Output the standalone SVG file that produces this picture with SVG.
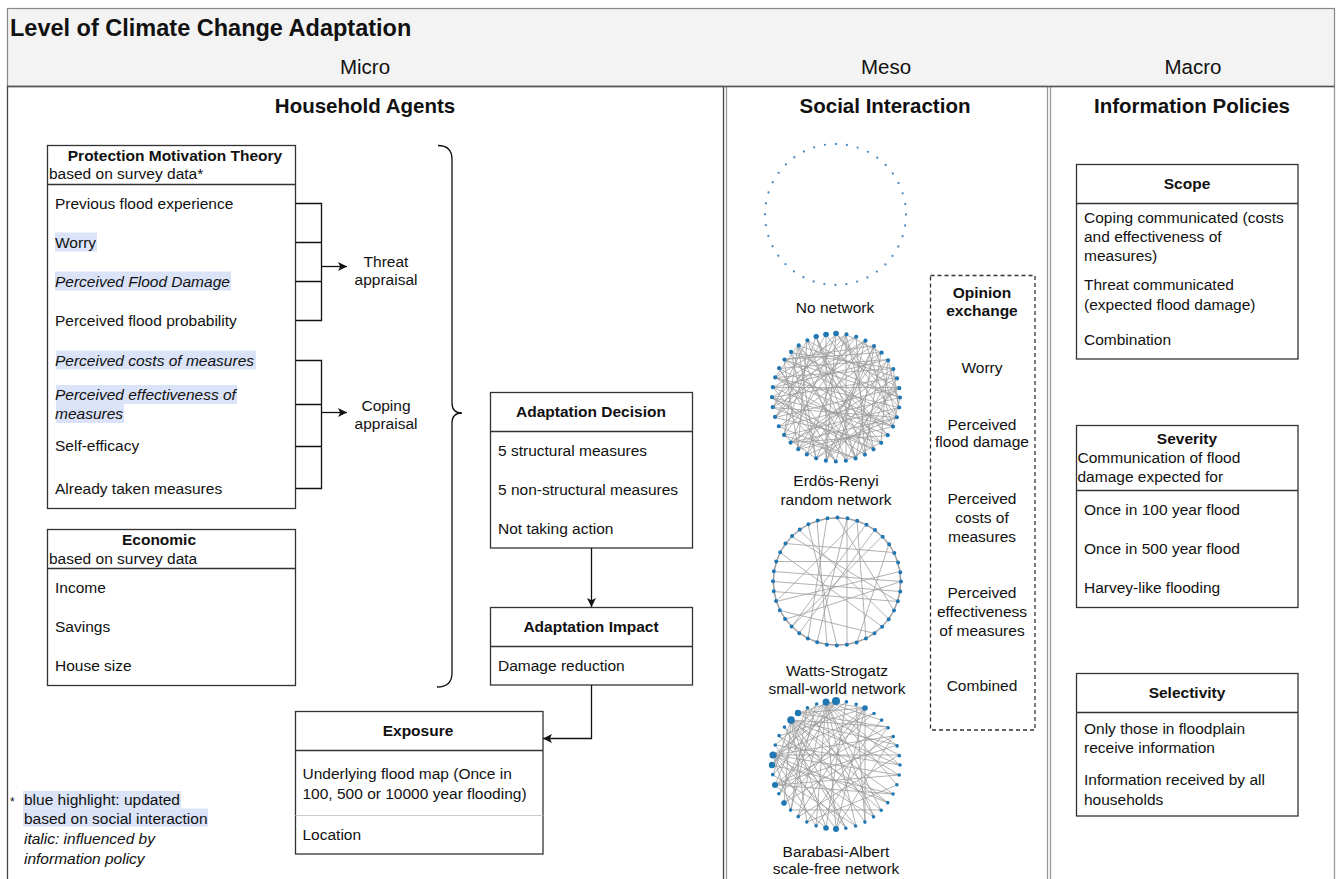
<svg xmlns="http://www.w3.org/2000/svg" width="1338" height="879" viewBox="0 0 1338 879">
<style>
text{font-family:"Liberation Sans",Arial,Helvetica,sans-serif;fill:#111}
.t{font-size:15.5px}
.b{font-weight:bold}
.i{font-style:italic}
.c{text-anchor:middle}
.h{font-size:20.5px}
.box{fill:#fff;stroke:#333;stroke-width:1.3}
.dv{stroke:#333;stroke-width:1.3}
.hl{fill:#dae3f7}
.conn{fill:none;stroke:#111;stroke-width:1.3}
.edge{fill:none;stroke:#9a9a9a;stroke-width:0.9;stroke-opacity:0.85}
.nodes{fill:none;stroke:#1f77b4;stroke-linecap:round;stroke-dasharray:0 10.053}
.big{fill:#1f77b4}
</style>
<defs>
<marker id="arr" viewBox="0 0 10 10" refX="10" refY="5" markerWidth="10" markerHeight="9" markerUnits="userSpaceOnUse" orient="auto">
<path d="M0,0 L10,5 L0,10 L2.5,5 z" fill="#111"/>
</marker>
</defs>

<g id="frame">
<rect x="7.5" y="8.5" width="1327" height="78" fill="#f3f3f3" stroke="#888" stroke-width="1.2"/>
<rect x="7.5" y="86.5" width="716" height="820" fill="#fff" stroke="#444" stroke-width="1.3"/>
<rect x="726.5" y="86.5" width="321" height="820" fill="#fff" stroke="#999" stroke-width="1.3"/>
<rect x="1050.5" y="86.5" width="284" height="820" fill="#fff" stroke="#999" stroke-width="1.3"/>
<line x1="7.5" y1="86.5" x2="1334.5" y2="86.5" stroke="#555" stroke-width="1.3"/>
<text x="10" y="36" class="b" font-size="23.5px">Level of Climate Change Adaptation</text>
<text x="365" y="73.5" class="h c">Micro</text>
<text x="886" y="73.5" class="h c">Meso</text>
<text x="1193" y="73.5" class="h c">Macro</text>
<text x="365" y="112.5" class="h b c">Household Agents</text>
<text x="885" y="112.5" class="h b c">Social Interaction</text>
<text x="1192" y="112.5" class="h b c">Information Policies</text>
</g>

<g id="pmt">
<rect x="47.5" y="145.5" width="248" height="363" class="box"/>
<line x1="47.5" y1="184.5" x2="295.5" y2="184.5" class="dv"/>
<text x="175" y="160.5" class="t b c">Protection Motivation Theory</text>
<text x="49" y="178.5" class="t">based on survey data*</text>
<rect x="55" y="232.5" width="42" height="19" class="hl"/>
<rect x="55" y="271.5" width="176" height="19" class="hl"/>
<rect x="56" y="350.5" width="200" height="19" class="hl"/>
<rect x="56" y="385" width="181" height="19" class="hl"/>
<rect x="56" y="404" width="68" height="19" class="hl"/>
<text x="55" y="208.5" class="t">Previous flood experience</text>
<text x="55" y="247.5" class="t">Worry</text>
<text x="55" y="286.5" class="t i">Perceived Flood Damage</text>
<text x="55" y="325.5" class="t">Perceived flood probability</text>
<text x="55" y="365.5" class="t i">Perceived costs of measures</text>
<text x="55" y="399.5" class="t i">Perceived effectiveness of</text>
<text x="55" y="419" class="t i">measures</text>
<text x="55" y="450.5" class="t">Self-efficacy</text>
<text x="55" y="493.5" class="t">Already taken measures</text>
</g>

<g id="threat">
<text x="386" y="266.5" class="t c">Threat</text>
<text x="386" y="284.5" class="t c">appraisal</text>
</g>
<g id="coping">
<text x="386" y="410.5" class="t c">Coping</text>
<text x="386" y="428.5" class="t c">appraisal</text>
</g>

<g id="economic">
<rect x="47.5" y="529.5" width="248" height="156" class="box"/>
<line x1="47.5" y1="568.5" x2="295.5" y2="568.5" class="dv"/>
<text x="159" y="544.5" class="t b c">Economic</text>
<text x="49" y="564" class="t">based on survey data</text>
<text x="55" y="592.5" class="t">Income</text>
<text x="55" y="631.5" class="t">Savings</text>
<text x="55" y="670.5" class="t">House size</text>
</g>

<g id="decision">
<rect x="490.5" y="392.5" width="202" height="155.5" class="box"/>
<line x1="490.5" y1="431.5" x2="692.5" y2="431.5" class="dv"/>
<text x="591" y="416.5" class="t b c">Adaptation Decision</text>
<text x="498" y="455.5" class="t">5 structural measures</text>
<text x="498" y="494.5" class="t">5 non-structural measures</text>
<text x="498" y="533.5" class="t">Not taking action</text>
</g>

<g id="impact">
<rect x="490.5" y="607.5" width="202" height="77.5" class="box"/>
<line x1="490.5" y1="646.5" x2="692.5" y2="646.5" class="dv"/>
<text x="591" y="631.5" class="t b c">Adaptation Impact</text>
<text x="498" y="670.5" class="t">Damage reduction</text>
</g>

<g id="exposure">
<rect x="295.5" y="711.5" width="247.5" height="142.5" class="box"/>
<line x1="295.5" y1="750.5" x2="543" y2="750.5" class="dv"/>
<line x1="295.5" y1="815.5" x2="543" y2="815.5" stroke="#ccc" stroke-width="1.2"/>
<text x="418" y="735.5" class="t b c">Exposure</text>
<text x="302.5" y="778.5" class="t">Underlying flood map (Once in</text>
<text x="302.5" y="798.5" class="t">100, 500 or 10000 year flooding)</text>
<text x="302.5" y="839.5" class="t">Location</text>
</g>

<g id="note">
<rect x="23" y="791" width="158" height="17.5" class="hl"/>
<rect x="23" y="808.5" width="185" height="18" class="hl"/>
<text x="10" y="806" font-size="12px">*</text>
<text x="24" y="804.5" class="t">blue highlight: updated</text>
<text x="24" y="823.5" class="t">based on social interaction</text>
<text x="24" y="843.5" class="t i">italic: influenced by</text>
<text x="24" y="863.5" class="t i">information policy</text>
</g>

<g id="no-network">
<circle cx="835.5" cy="214.5" r="70.5" fill="none" stroke="#4a8cc6" stroke-width="2.3" stroke-linecap="round" stroke-dasharray="0 11.07"/>
<text x="835" y="313" class="t c">No network</text>
</g>

<g id="erdos-renyi">
<g transform="translate(836,397.5)">
<path class="edge" d="M64 0L-57 29M64 0L-45 -45M63 10L-61 -20M63 10L-20 61M61 20L0 -64M61 20L-63 10M57 29L-38 52M57 29L29 -57M52 38L-63 -10M52 38L-29 -57M45 45L-61 20M45 45L52 -38M38 52L-52 -38M38 52L10 -63M29 57L-64 0M29 57L45 -45M20 61L-20 -61M20 61L-52 38M10 63L-38 -52M10 63L57 -29M0 64L-57 -29M0 64L29 -57M-10 63L-10 -63M-10 63L63 -10M-20 61L38 -52M-20 61L-45 -45M-29 57L10 -63M-29 57L61 20M-38 52L52 -38M-38 52L-29 -57M-45 45L61 -20M-45 45L0 -64M-52 38L20 -61M-52 38L63 10M-57 29L45 -45M-57 29L20 61M-61 20L63 -10M-61 20L-10 -63M-63 10L38 -52M-63 10L38 52M-64 0L61 -20M-64 0L57 29M-63 -10L20 -61M-63 -10L0 64M-61 -20L57 -29M-61 -20L45 45M-57 -29L52 -38M-57 -29L10 63M-52 -38L64 0M-52 -38L-38 52M-45 -45L57 -29M-38 -52L52 38M-38 -52L-20 61M-29 -57L63 -10M-20 -61L38 52M-20 -61L-52 38M-10 -63L57 29M0 -64L-10 63M10 -63L-61 -20M20 -61L29 57M29 -57L-61 20M38 -52L-52 -38M45 -45L-29 57M52 -38L63 10M57 -29L-45 45M61 -20L20 61M63 -10L-63 -10M64 0L0 -64M45 45L-38 -52M0 64L-64 0M-45 45L61 20M-64 0L29 -57M-45 -45L20 61M0 -64L-63 10M45 -45L-52 -38M57 29L-61 -20M29 57L-20 -61M-10 63L38 -52M-63 10L-29 -57M10 63L10 -63M64 0L57 29M45 45L10 63M-20 61L-52 38M-61 -20L-38 -52M10 -63L45 -45M57 -29L63 10M63 10L0 -64M52 38L-45 45M38 52L-64 0M20 61L38 -52M-20 61L63 -10M-38 52L29 -57M-52 38L-38 -52M-63 -10L52 -38M-57 -29L57 29M-29 -57L20 61M10 -63L-61 20M38 -52L61 20M52 -38L-10 63M61 -20L-38 -52M63 -10L-38 52M61 20L-52 -38"/>
<circle r="64" class="nodes" stroke-width="4.2"/>
<circle cx="-10" cy="-63" r="2.8" class="big"/>
<circle cx="0" cy="-64" r="2.8" class="big"/>
<circle cx="-20" cy="-61" r="2.5" class="big"/>
</g>
<text x="836" y="485.5" class="t c">Erdös-Renyi</text>
<text x="836" y="504.5" class="t c">random network</text>
</g>

<g id="watts-strogatz">
<g transform="translate(837,581.5)">
<circle r="64" class="edge"/>
<polygon class="edge" points="64,0 61,20 52,38 38,52 20,61 0,64 -20,61 -38,52 -52,38 -61,20 -64,0 -61,-20 -52,-38 -38,-52 -20,-61 0,-64 20,-61 38,-52 52,-38 61,-20"/>
<polygon class="edge" points="63,10 57,29 45,45 29,57 10,63 -10,63 -29,57 -45,45 -57,29 -63,10 -63,-10 -57,-29 -45,-45 -29,-57 -10,-63 10,-63 29,-57 45,-45 57,-29 63,-10"/>
<path class="edge" d="M0 -64L57 29M10 -63L-20 61M20 -61L-61 20M10 -63L10 63M29 -57L-45 45M64 0L-63 -10M63 10L-64 0M61 20L-63 10M52 -38L20 61M57 -29L-52 -38M61 -20L-61 -20M-38 -52L52 38M-29 -57L0 64M-10 -63L-29 57M38 52L-57 29M45 45L-57 -29M38 -52L-38 52M63 -10L-61 20M-20 -61L-10 63M20 -61L29 57M-45 -45L61 20M-52 38L64 0M45 -45L-45 45"/>
<circle r="64" class="nodes" stroke-width="4"/>
</g>
<text x="837" y="675.5" class="t c">Watts-Strogatz</text>
<text x="837" y="694" class="t c">small-world network</text>
</g>

<g id="barabasi-albert">
<g transform="translate(836,765)">
<path class="edge" d="M-10 -63L61 20M-10 -63L45 45M-10 -63L20 61M-10 -63L0 64M-10 -63L-20 61M-10 -63L-38 52M-10 -63L-57 29M-10 -63L-64 0M-10 -63L-61 -20M-10 -63L45 -45M-10 -63L61 -20M-10 -63L64 0M-10 -63L29 -57M-10 -63L38 52M-45 -45L64 0M-45 -45L57 29M-45 -45L29 57M-45 -45L-10 63M-45 -45L-29 57M-45 -45L-52 38M-45 -45L-63 10M-45 -45L52 -38M-45 -45L61 -20M-45 -45L10 63M-45 -45L52 38M-63 -10L63 10M-63 -10L52 38M-63 -10L38 52M-63 -10L10 63M-63 -10L-20 61M-63 -10L-45 45M-63 -10L38 -52M-63 -10L57 -29M-63 -10L63 -10M-63 -10L10 -63M29 -57L-38 52M29 -57L-52 38M29 -57L-61 20M29 -57L-57 -29M29 -57L-38 -52M29 -57L0 64M29 -57L29 57M-61 20L61 -20M-61 20L52 -38M-61 20L63 10M-61 20L57 29M-61 20L-10 63M-61 20L-29 -57M61 20L-29 57M45 45L-45 45M20 61L-63 10M0 64L57 -29M-20 61L52 -38M-38 52L63 -10M-57 29L38 -52M64 0L-61 -20M38 52L-29 -57M10 63L-52 -38M-10 63L10 -63M57 29L-64 0M63 10L-38 -52M52 38L-57 -29M29 57L20 -61M-29 57L45 -45M-45 45L-20 -61M-52 38L57 -29M-63 10L0 -64M-38 -52L52 -38M-29 -57L63 -10M-52 -38L45 45M-57 -29L20 61M-61 -20L0 64M0 -64L-38 -52M0 -64L-57 29M-20 -61L-64 0M-29 -57L-45 45"/>
<circle r="64" class="nodes" stroke-width="3.6"/>
<circle cx="0" cy="-64" r="4" class="big"/>
<circle cx="-10" cy="-63" r="3.5" class="big"/>
<circle cx="-45" cy="-45" r="3.8" class="big"/>
<circle cx="-38" cy="-52" r="3.2" class="big"/>
<circle cx="-63" cy="-10" r="3.6" class="big"/>
<circle cx="-64" cy="0" r="3.2" class="big"/>
<circle cx="-61" cy="20" r="3" class="big"/>
<circle cx="29" cy="-57" r="2.8" class="big"/>
<circle cx="-52" cy="38" r="2.8" class="big"/>
<circle cx="0" cy="64" r="3" class="big"/>
<circle cx="-10" cy="63" r="2.8" class="big"/>
</g>
<text x="836" y="857" class="t c">Barabasi-Albert</text>
<text x="836" y="873.5" class="t c">scale-free network</text>
</g>

<g id="opinion-exchange">
<rect x="930.5" y="275.5" width="104.5" height="454.5" fill="none" stroke="#333" stroke-width="1.3" stroke-dasharray="4 3"/>
<text x="982" y="298" class="t b c">Opinion</text>
<text x="982" y="315.5" class="t b c">exchange</text>
<text x="982" y="373" class="t c">Worry</text>
<text x="982" y="429.5" class="t c">Perceived</text>
<text x="982" y="447" class="t c">flood damage</text>
<text x="982" y="504" class="t c">Perceived</text>
<text x="982" y="523" class="t c">costs of</text>
<text x="982" y="541.5" class="t c">measures</text>
<text x="982" y="598" class="t c">Perceived</text>
<text x="982" y="617" class="t c">effectiveness</text>
<text x="982" y="635.5" class="t c">of measures</text>
<text x="982" y="690.5" class="t c">Combined</text>
</g>

<g id="scope">
<rect x="1076.5" y="164.5" width="221.5" height="194.5" class="box"/>
<line x1="1076.5" y1="203.5" x2="1298" y2="203.5" class="dv"/>
<text x="1187" y="188.5" class="t b c">Scope</text>
<text x="1084" y="222.5" class="t">Coping communicated (costs</text>
<text x="1084" y="241.5" class="t">and effectiveness of</text>
<text x="1084" y="260.5" class="t">measures)</text>
<text x="1084" y="289.5" class="t">Threat communicated</text>
<text x="1084" y="309.5" class="t">(expected flood damage)</text>
<text x="1084" y="344.5" class="t">Combination</text>
</g>

<g id="severity">
<rect x="1076.5" y="425.5" width="221.5" height="182" class="box"/>
<line x1="1076.5" y1="490.5" x2="1298" y2="490.5" class="dv"/>
<text x="1187" y="443.5" class="t b c">Severity</text>
<text x="1077.5" y="462.5" class="t">Communication of flood</text>
<text x="1077.5" y="481.5" class="t">damage expected for</text>
<text x="1084" y="514.5" class="t">Once in 100 year flood</text>
<text x="1084" y="553.5" class="t">Once in 500 year flood</text>
<text x="1084" y="592.5" class="t">Harvey-like flooding</text>
</g>

<g id="selectivity">
<rect x="1076.5" y="673.5" width="221.5" height="142.5" class="box"/>
<line x1="1076.5" y1="712.5" x2="1298" y2="712.5" class="dv"/>
<text x="1187" y="697.5" class="t b c">Selectivity</text>
<text x="1084" y="733.5" class="t">Only those in floodplain</text>
<text x="1084" y="752.5" class="t">receive information</text>
<text x="1084" y="784.5" class="t">Information received by all</text>
<text x="1084" y="804.5" class="t">households</text>
</g>

<g id="connectors">
<path class="conn" d="M295.5 203.5H321.5V320.5H295.5M295.5 242.5H321.5M295.5 281.5H321.5"/>
<path class="conn" d="M321.5 266.5H347" marker-end="url(#arr)"/>
<path class="conn" d="M295.5 360.5H321.5V488.5H295.5M295.5 404.5H321.5M295.5 446.5H321.5"/>
<path class="conn" d="M321.5 412.5H347" marker-end="url(#arr)"/>
<path class="conn" d="M438 145.5Q452 145.5 452 159.5V403Q452 413 462 413Q452 413 452 423V673Q452 687 437 687"/>
<path class="conn" d="M591.5 548V607" marker-end="url(#arr)"/>
<path class="conn" d="M591.5 685V738.5H543" marker-end="url(#arr)"/>
</g>
</svg>
